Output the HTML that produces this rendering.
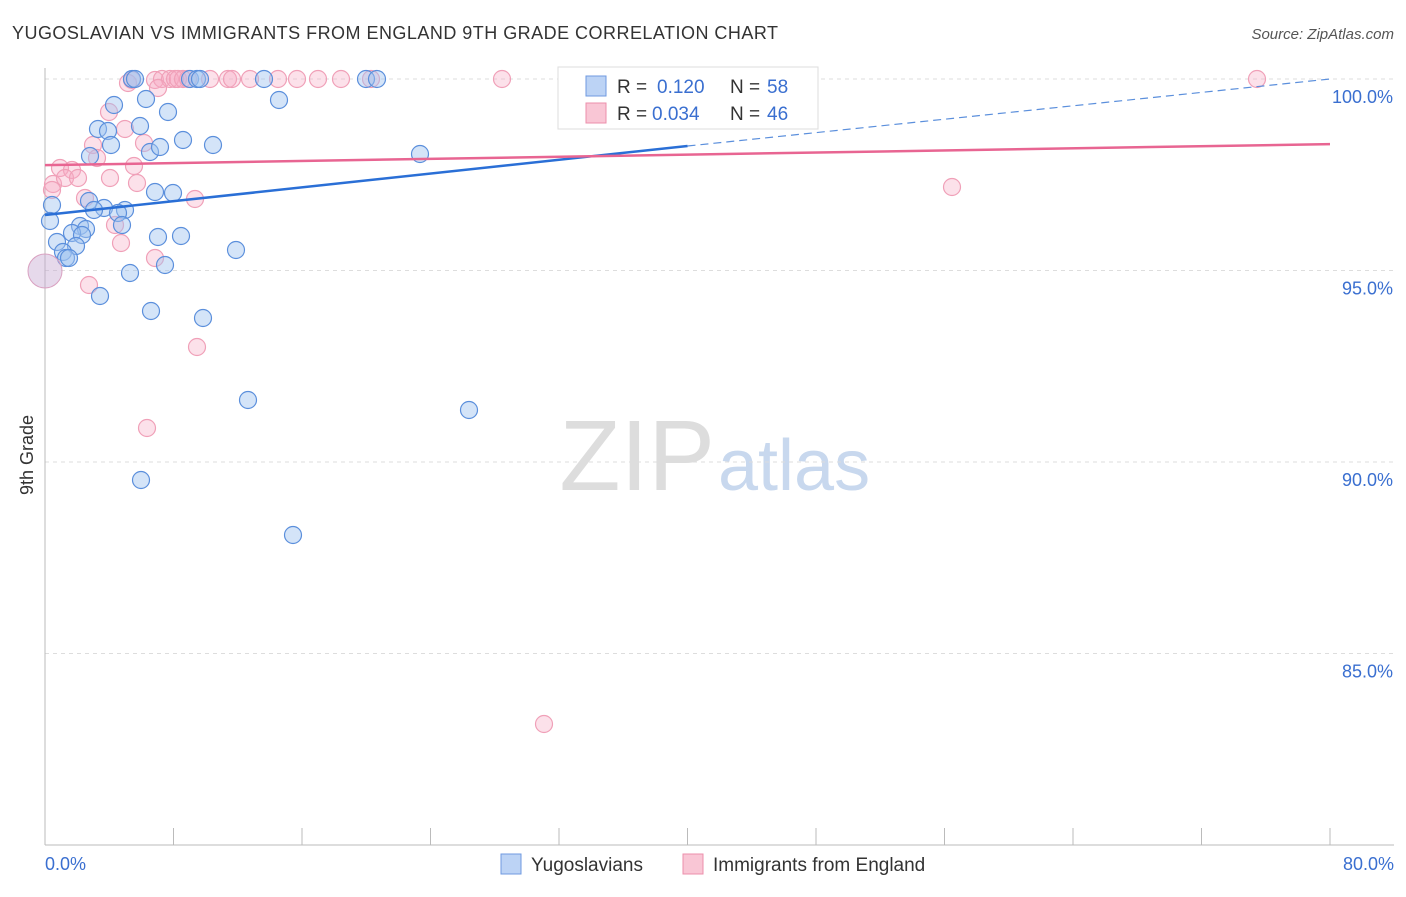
<!DOCTYPE html>
<html><head><meta charset="utf-8"><style>
body{margin:0;background:#fff;font-family:"Liberation Sans",sans-serif}
svg text{font-family:"Liberation Sans",sans-serif}
</style></head><body>
<svg width="1406" height="892">
<text x="12" y="39" font-size="18" fill="#333" textLength="766">YUGOSLAVIAN VS IMMIGRANTS FROM ENGLAND 9TH GRADE CORRELATION CHART</text>
<text x="1394" y="39" font-size="15" fill="#555" font-style="italic" text-anchor="end">Source: ZipAtlas.com</text>
<text x="715" y="490" font-size="100" fill="#ddd" text-anchor="end" font-family="Liberation Serif">ZIP</text>
<text x="718" y="490" font-size="72" fill="#c8d8ee">atlas</text>
<g id="grid"></g>
<line x1="45" y1="68" x2="45" y2="845" stroke="#bbb"/>
<line x1="45" y1="845" x2="1394" y2="845" stroke="#bbb"/>
<g id="xticks"></g>
<text x="33" y="455" font-size="18" fill="#333" transform="rotate(-90 33 455)" text-anchor="middle">9th Grade</text>
<text x="45" y="870" font-size="18" fill="#3a6fd0">0.0%</text>
<text x="1394" y="870" font-size="18" fill="#3a6fd0" text-anchor="end">80.0%</text>
<g id="pts"></g>
<g id="lines"></g>
<g>
<rect x="558" y="67" width="260" height="62" fill="#fff" stroke="#ddd"/>
<rect x="586" y="76" width="20" height="20" fill="#bcd3f5" stroke="#6f9ae0"/>
<rect x="586" y="103" width="20" height="20" fill="#f9c6d5" stroke="#ec8fab"/>
<text x="617" y="93" font-size="19" fill="#333">R =</text>
<text x="657" y="93" font-size="19" fill="#3a6fd0">0.120</text>
<text x="730" y="93" font-size="19" fill="#333">N =</text>
<text x="767" y="93" font-size="19" fill="#3a6fd0">58</text>
<text x="617" y="120" font-size="19" fill="#333">R =</text>
<text x="652" y="120" font-size="19" fill="#3a6fd0">0.034</text>
<text x="730" y="120" font-size="19" fill="#333">N =</text>
<text x="767" y="120" font-size="19" fill="#3a6fd0">46</text>
</g>
<g>
<rect x="501" y="854" width="20" height="20" fill="#bcd3f5" stroke="#6f9ae0"/>
<text x="531" y="871" font-size="19" fill="#333">Yugoslavians</text>
<rect x="683" y="854" width="20" height="20" fill="#f9c6d5" stroke="#ec8fab"/>
<text x="713" y="871" font-size="19" fill="#333">Immigrants from England</text>
</g>
</svg>
<script>
const yTicks=[100,95,90,85];
const xTickVals=[0,8,16,24,32,40,48,56,64,72,80];
const blueX=[132,135,190,197,200,264,366,377,679,114,146,168,279,98,108,140,111,150,160,183,213,420,90,155,173,89,104,94,125,118,122,52,50,80,86,72,82,57,76,63,66,69,158,181,236,130,165,100,151,203,248,469,141,293].map(p=>(p-45)/1285*80);
const blueY=[79,79,79,79,79,79,79,79,79,105,99,112,100,129,131,126,145,152,147,140,145,154,156,192,193,201,208,210,210,213,225,205,221,226,229,233,235,242,246,252,258,258,237,236,250,273,265,296,311,318,400,410,480,535].map(p=>100-(p-79)/38.3);
const pinkX=[132,155,162,170,175,178,183,188,210,228,232,250,278,297,318,341,371,502,574,1257,128,158,109,93,97,125,144,134,60,72,53,65,78,110,137,52,85,195,115,121,155,89,197,147,544,952].map(p=>(p-45)/1285*80);
const pinkY=[80,80,79,79,79,79,79,79,79,79,79,79,79,79,79,79,79,79,79,79,83,88,112,145,158,129,143,166,168,170,184,178,178,178,183,190,198,199,225,243,258,285,347,428,724,187].map(p=>100-(p-79)/38.3);
const blueLine=[96.45,98.25,100]; const blueLineX=[0,40,80];
const pinkLine=[97.75,98.3]; const pinkLineX=[0,80];
const sx=v=>45+v/80*1285, sy=v=>79+(100-v)*38.3;
const NS='http://www.w3.org/2000/svg';
function mk(t,a,p){const e=document.createElementNS(NS,t);for(const k in a)e.setAttribute(k,a[k]);document.getElementById(p).appendChild(e);return e;}
yTicks.forEach(v=>{
 const l=mk('line',{x1:45,x2:1394,y1:sy(v),y2:sy(v),stroke:'#ddd','stroke-dasharray':'4,4'},'grid');
 
 
 const t=mk('text',{x:1393,y:sy(v)+24,'font-size':18,fill:'#3a6fd0','text-anchor':'end'},'grid');
 t.textContent=v.toFixed(1)+'%';
 
 
});
xTickVals.forEach(v=>{
 const l=mk('line',{x1:sx(v),x2:sx(v),y1:828,y2:845,stroke:'#bbb'},'xticks');
 
 
});
pinkX.forEach((x,i)=>{
 const c=mk('circle',{cx:sx(x),cy:sy(pinkY[i]),r:8.5,fill:'rgba(245,170,195,0.35)',stroke:'#f0a0b8','stroke-width':1.2},'pts');
 
 
});
blueX.forEach((x,i)=>{
 const c=mk('circle',{cx:sx(x),cy:sy(blueY[i]),r:8.5,fill:'rgba(160,195,240,0.45)',stroke:'#5b8fdc','stroke-width':1.2},'pts');
 
 
});
const big=mk('circle',{cx:45,cy:271,r:17,fill:'rgba(200,170,210,0.45)',stroke:'#d9a0c0'},'pts');


const b1=mk('line',{x1:sx(blueLineX[0]),y1:sy(blueLine[0]),x2:sx(blueLineX[1]),y2:sy(blueLine[1]),stroke:'#2a6fd6','stroke-width':2.5},'lines');


const b2=mk('line',{x1:sx(blueLineX[1]),y1:sy(blueLine[1]),x2:sx(blueLineX[2]),y2:sy(blueLine[2]),stroke:'#5b8fdc','stroke-width':1.2,'stroke-dasharray':'8,5'},'lines');


const p1=mk('line',{x1:sx(pinkLineX[0]),y1:sy(pinkLine[0]),x2:sx(pinkLineX[1]),y2:sy(pinkLine[1]),stroke:'#e86592','stroke-width':2.5},'lines');


</script>
</body></html>
